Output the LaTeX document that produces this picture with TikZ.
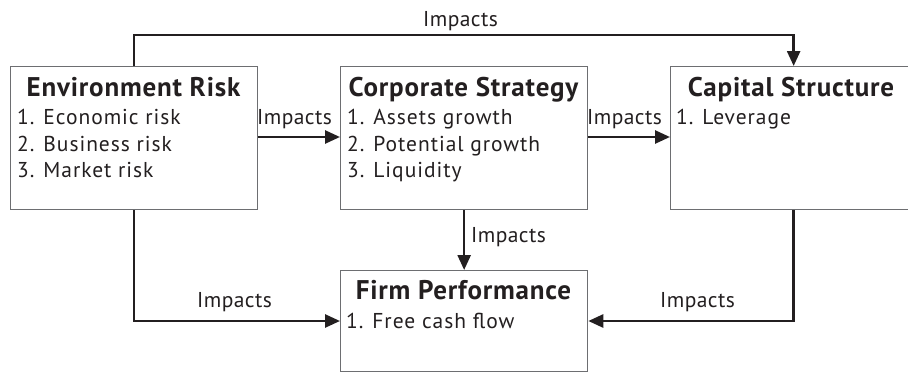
\documentclass[tikz,border=0pt]{standalone}
\usepackage{fontspec}
\setmainfont{PT Sans}
\usetikzlibrary{arrows.meta}
\definecolor{ink}{HTML}{231F20}
\definecolor{boxline}{HTML}{6D6E71}
\tikzset{
  box/.style={draw=boxline, line width=1.3pt, rectangle, inner sep=0pt, anchor=north west},
  conn/.style={draw=ink, line width=2.6pt, -{Triangle[length=15pt,width=13pt]}},
  ttl/.style={font=\fontsize{27}{32}\selectfont\bfseries\addfontfeatures{LetterSpace=3}, text=ink, inner sep=0pt, anchor=base},
  itm/.style={font=\fontsize{21.5}{26}\selectfont\addfontfeatures{LetterSpace=4.5}, text=ink, inner sep=0pt, anchor=base west},
  lbl/.style={font=\fontsize{21.5}{26}\selectfont\addfontfeatures{LetterSpace=2}, text=ink, inner sep=0pt, anchor=base west}
}
\begin{document}
\begin{tikzpicture}[x=1pt,y=-1pt]
\useasboundingbox (0,0) rectangle (908,372);
\fill[white] (0,0) rectangle (908,372);
% boxes
\node[box, minimum width=247pt, minimum height=143pt] (env) at (10,66) {};
\node[box, minimum width=247pt, minimum height=143pt] (corp) at (340,66) {};
\node[box, minimum width=246pt, minimum height=143pt] (cap) at (670,66) {};
\node[box, minimum width=247pt, minimum height=101pt] (firm) at (340,270) {};
% texts
\node[ttl] (envt) at (133.5,96) {Environment Risk};
\node[itm] (env1) at (17,124) {1. Economic risk};
\node[itm] (env2) at (17,151) {2. Business risk};
\node[itm] (env3) at (17,177) {3. Market risk};
\node[ttl] (corpt) at (463.5,96) {Corporate Strategy};
\node[itm] (corp1) at (347,124) {1. Assets growth};
\node[itm] (corp2) at (347,151) {2. Potential growth};
\node[itm] (corp3) at (347,177) {3. Liquidity};
\node[ttl] (capt) at (791,96) {Capital Structure};
\node[itm] (cap1) at (676,124) {1. Leverage};
\node[ttl] (firmt) at (463.5,299) {Firm Performance};
\node[itm] (firm1) at (346,328) {1. Free cash flow};
% rails
\coordinate (rail) at (0,35);
\coordinate (midrow) at (0,137);
\coordinate (lowrow) at (0,321);
% connectors
\draw[conn] (env.north) -- (env.north |- rail) -| (cap.north);
\draw[conn] (env.east |- midrow) -- (corp.west |- midrow);
\draw[conn] (corp.east |- midrow) -- (cap.west |- midrow);
\draw[conn] (corp.south) -- (firm.north);
\draw[conn] (env.south) -- (env.south |- lowrow) -- (firm.west |- lowrow);
\draw[conn] (cap.south) -- (cap.south |- lowrow) -- (firm.east |- lowrow);
% labels
\node[lbl] (l1) at (423,27) {Impacts};
\node[lbl] (l2) at (257,124) {Impacts};
\node[lbl] (l3) at (587,124) {Impacts};
\node[lbl] (l4) at (471,242) {Impacts};
\node[lbl] (l5) at (197,307) {Impacts};
\node[lbl] (l6) at (660,307) {Impacts};
\end{tikzpicture}
\end{document}
